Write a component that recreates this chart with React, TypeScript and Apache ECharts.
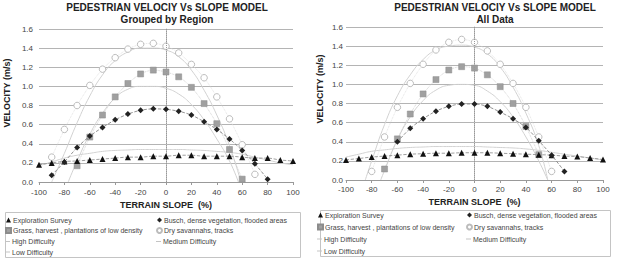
import React, { useEffect, useRef } from "react";
import * as echarts from "echarts";

const FONT = "'Liberation Sans', Arial, sans-serif";

const SLOPES = [-100, -90, -80, -70, -60, -50, -40, -30, -20, -10, 0, 10, 20, 30, 40, 50, 60, 70, 80, 90, 100];
const Y_TICKS = [0, 0.2, 0.4, 0.6, 0.8, 1.0, 1.2, 1.4, 1.6];
const X_TICKS = [-100, -80, -60, -40, -20, 0, 20, 40, 60, 80, 100];

const NAME_EXPL = "Exploration Survey";
const NAME_BUSCH = "Busch, dense vegetation, flooded areas";
const NAME_GRASS = "Grass, harvest , plantations of low density";
const NAME_DRY = "Dry savannahs, tracks";
const NAME_HIGH = "High Difficulty";
const NAME_MED = "Medium Difficulty";
const NAME_LOW = "Low Difficulty";

// Left chart: Grouped by Region
const L_EXPL = [0.18, 0.2, 0.215, 0.22, 0.23, 0.24, 0.25, 0.26, 0.26, 0.27, 0.27, 0.28, 0.28, 0.27, 0.27, 0.27, 0.26, 0.25, 0.25, 0.23, 0.22];
const L_BUSCH = [null, 0.07, 0.21, 0.36, 0.48, 0.57, 0.65, 0.71, 0.75, 0.765, 0.76, 0.74, 0.7, 0.63, 0.55, 0.45, 0.33, 0.19, 0.03, null, null];
const L_GRASS = [null, null, null, 0.17, 0.47, 0.7, 0.89, 1.03, 1.13, 1.17, 1.15, 1.1, 0.99, 0.82, 0.61, 0.34, 0.03, null, null, null, null];
const L_DRY = [null, 0.26, 0.55, 0.8, 1.01, 1.18, 1.3, 1.39, 1.44, 1.45, 1.42, 1.35, 1.23, 1.09, 0.89, 0.66, 0.39, 0.08, null, null, null];
const L_HIGH_X = [-100, -90, -80, -70, -60, -50, -40, -30, -20, -10, 0, 10, 20, 30, 40, 50, 60, 70, 80, 90, 100];
const L_HIGH_Y = [0.17, 0.21, 0.25, 0.28, 0.3, 0.32, 0.33, 0.335, 0.34, 0.34, 0.34, 0.34, 0.335, 0.33, 0.32, 0.31, 0.29, 0.26, 0.23, 0.2, 0.18];
const L_MED_X = [-77, -70, -60, -50, -40, -30, -20, -10, 0, 10, 20, 30, 40, 50, 57];
const L_MED_Y = [0, 0.22, 0.5, 0.72, 0.88, 0.97, 1.0, 1.0, 0.98, 0.92, 0.81, 0.65, 0.45, 0.22, 0];
const L_LOW_X = [-90, -80, -70, -60, -50, -40, -30, -20, -10, 0, 10, 20, 30, 40, 50, 59];
const L_LOW_Y = [0, 0.3, 0.62, 0.9, 1.12, 1.27, 1.36, 1.4, 1.4, 1.38, 1.31, 1.17, 0.96, 0.7, 0.38, 0];

// Right chart: All Data
const R_EXPL = [0.21, 0.225, 0.24, 0.25, 0.26, 0.27, 0.275, 0.28, 0.28, 0.285, 0.285, 0.285, 0.28, 0.275, 0.27, 0.265, 0.26, 0.25, 0.245, 0.23, 0.215];
const R_BUSCH = [null, null, null, null, 0.4, 0.54, 0.64, 0.72, 0.77, 0.795, 0.795, 0.77, 0.71, 0.64, 0.55, 0.41, 0.26, 0.09, null, null, null];
const R_GRASS = [null, null, null, 0.115, 0.43, 0.69, 0.9, 1.05, 1.15, 1.185, 1.17, 1.1, 0.976, 0.8, 0.56, 0.265, null, null, null, null, null];
const R_DRY = [null, null, 0.09, 0.45, 0.76, 1.01, 1.21, 1.36, 1.44, 1.47, 1.44, 1.35, 1.21, 1.01, 0.76, 0.45, 0.09, null, null, null, null];
const R_HIGH_X = [-100, -90, -80, -70, -60, -50, -40, -30, -20, -10, 0, 10, 20, 30, 40, 50, 60, 70, 80, 90, 100];
const R_HIGH_Y = [0.24, 0.27, 0.3, 0.315, 0.33, 0.34, 0.345, 0.35, 0.35, 0.35, 0.35, 0.345, 0.34, 0.335, 0.325, 0.31, 0.29, 0.27, 0.25, 0.23, 0.21];
const R_MED_X = [-73, -70, -60, -50, -40, -30, -20, -10, 0, 10, 20, 30, 40, 50, 57];
const R_MED_Y = [0, 0.1, 0.42, 0.66, 0.83, 0.94, 0.99, 1.0, 0.99, 0.93, 0.82, 0.66, 0.45, 0.2, 0];
const R_LOW_X = [-85, -80, -70, -60, -50, -40, -30, -20, -10, 0, 10, 20, 30, 40, 50, 57];
const R_LOW_Y = [0, 0.2, 0.58, 0.88, 1.1, 1.26, 1.36, 1.4, 1.41, 1.39, 1.32, 1.18, 0.97, 0.7, 0.36, 0];

type Layout = {
  title2: string;
  gridLeft: number;
  gridRight: number;
  gridTop: number;
  gridHeight: number;
  titleX: number;
  yNameX: number;
  yNameY: number;
  yLabelMargin: number;
  xLabelMargin: number;
  xNameGap: number;
  box: [number, number, number, number];
  rows: number[];
  rowH: number;
  col1: number;
  col2: number;
};

type Spec = {
  layout: Layout;
  expl: (number | null)[];
  busch: (number | null)[];
  grass: (number | null)[];
  dry: (number | null)[];
  highX: number[];
  highY: number[];
  medX: number[];
  medY: number[];
  lowX: number[];
  lowY: number[];
};

const pairs = (xs: number[], ys: (number | null)[]) =>
  xs.map((x, i) => [x, ys[i]]).filter((p) => p[1] !== null && p[1] !== undefined);

function buildOption(spec: Spec) {
  const L = spec.layout;
  const modelLine = (name: string, xs: number[], ys: number[]) => ({
    name,
    type: "line",
    data: pairs(xs, ys),
    smooth: true,
    showSymbol: false,
    symbol: "none",
    color: "#c4c4c4",
    itemStyle: { color: "#c4c4c4" },
    lineStyle: { color: "#d2d2d2", width: 1 },
    z: 1,
    silent: true,
  });
  const legendBase = {
    orient: "vertical",
    itemGap: 0,
    padding: 0,
    selectedMode: false,
    textStyle: {
      fontSize: 7,
      color: "#444",
      fontFamily: FONT,
      lineHeight: L.rowH,
      padding: [0, 0, 0, -3],
    },
  };
  const centered = {
    textAlign: "center",
    textVerticalAlign: "middle",
    align: "center",
    verticalAlign: "middle",
  };
  return {
    animation: false,
    backgroundColor: "#fff",
    grid: { left: L.gridLeft, right: L.gridRight, top: L.gridTop, height: L.gridHeight },
    xAxis: {
      type: "value",
      min: X_TICKS[0],
      max: X_TICKS[X_TICKS.length - 1],
      interval: 20,
      name: "TERRAIN SLOPE  (%)",
      nameLocation: "middle",
      nameGap: L.xNameGap,
      nameTextStyle: { fontSize: 9, fontWeight: "bold", color: "#222", fontFamily: FONT },
      axisLine: { show: true, lineStyle: { color: "#999", width: 1 } },
      axisTick: { show: true, length: 3, lineStyle: { color: "#999" } },
      axisLabel: { fontSize: 8, color: "#444", fontFamily: FONT, margin: L.xLabelMargin },
      splitLine: { show: false },
    },
    yAxis: {
      type: "value",
      min: Y_TICKS[0],
      max: Y_TICKS[Y_TICKS.length - 1],
      interval: 0.2,
      axisLine: { show: true, lineStyle: { color: "#bbb", width: 1 } },
      axisTick: { show: false },
      axisLabel: {
        fontSize: 8,
        color: "#444",
        fontFamily: FONT,
        margin: L.yLabelMargin,
        formatter: (v: number) => v.toFixed(1),
      },
      splitLine: { show: true, lineStyle: { color: "#b4b4b4", width: 1 } },
    },
    legend: [
      {
        ...legendBase,
        left: L.col1,
        top: L.rows[0] - L.rowH / 2,
        itemWidth: 5,
        itemHeight: 5,
        data: [
          { name: NAME_EXPL, icon: "triangle" },
          { name: NAME_GRASS, icon: "rect" },
        ],
      },
      {
        ...legendBase,
        left: L.col1,
        top: L.rows[2] - L.rowH / 2,
        itemWidth: 5,
        itemHeight: 1,
        data: [
          { name: NAME_HIGH, icon: "rect" },
          { name: NAME_LOW, icon: "rect" },
        ],
      },
      {
        ...legendBase,
        left: L.col2,
        top: L.rows[0] - L.rowH / 2,
        itemWidth: 5,
        itemHeight: 5,
        data: [
          { name: NAME_BUSCH, icon: "diamond" },
          { name: NAME_DRY, icon: "circle" },
        ],
      },
      {
        ...legendBase,
        left: L.col2,
        top: L.rows[2] - L.rowH / 2,
        itemWidth: 5,
        itemHeight: 1,
        data: [{ name: NAME_MED, icon: "rect" }],
      },
    ],
    graphic: [
      {
        type: "text",
        x: L.titleX,
        y: 7,
        style: {
          text: "PEDESTRIAN VELOCIY Vs SLOPE MODEL",
          font: `bold 10px ${FONT}`,
          fill: "#222",
          ...centered,
        },
      },
      {
        type: "text",
        x: L.titleX,
        y: 19,
        style: { text: L.title2, font: `bold 10px ${FONT}`, fill: "#222", ...centered },
      },
      {
        type: "text",
        x: L.yNameX,
        y: L.yNameY,
        rotation: Math.PI / 2,
        style: { text: "VELOCITY (m/s)", font: `bold 9px ${FONT}`, fill: "#222", ...centered },
      },
      {
        type: "rect",
        z: -10,
        shape: { x: L.box[0], y: L.box[1], width: L.box[2], height: L.box[3] },
        style: { fill: "none", stroke: "#c4c4c4", lineWidth: 1 },
      },
    ],
    series: [
      modelLine(NAME_HIGH, spec.highX, spec.highY),
      modelLine(NAME_MED, spec.medX, spec.medY),
      modelLine(NAME_LOW, spec.lowX, spec.lowY),
      {
        name: NAME_DRY,
        type: "line",
        data: pairs(SLOPES, spec.dry),
        smooth: 0.3,
        symbol: "circle",
        symbolSize: 6.5,
        itemStyle: { color: "#fff", borderColor: "#bcbcbc", borderWidth: 1 },
        lineStyle: { color: "#dcdcdc", width: 0.8, type: "dotted" },
        z: 3,
      },
      {
        name: NAME_GRASS,
        type: "line",
        data: pairs(SLOPES, spec.grass),
        smooth: 0.3,
        symbol: "rect",
        symbolSize: 6,
        itemStyle: { color: "#a0a0a0", borderColor: "#8c8c8c", borderWidth: 0.5 },
        lineStyle: { color: "#c8c8c8", width: 0.8, type: "dotted" },
        z: 4,
      },
      {
        name: NAME_EXPL,
        type: "line",
        data: pairs(SLOPES, spec.expl),
        smooth: 0.3,
        symbol: "triangle",
        symbolSize: 6,
        itemStyle: { color: "#111" },
        lineStyle: { color: "#888", width: 0.8, type: "dashed" },
        z: 5,
        markLine: {
          silent: true,
          symbol: ["none", "none"],
          label: { show: false },
          lineStyle: { color: "#999", type: "dotted", width: 1 },
          data: [{ xAxis: 0 }],
        },
      },
      {
        name: NAME_BUSCH,
        type: "line",
        data: pairs(SLOPES, spec.busch),
        smooth: 0.3,
        symbol: "diamond",
        symbolSize: 6,
        itemStyle: { color: "#222" },
        lineStyle: { color: "#777", width: 0.8, type: "dashed" },
        z: 6,
      },
    ],
  };
}

const LEFT: Spec = {
  layout: {
    title2: "Grouped by Region",
    gridLeft: 39,
    gridRight: 17,
    gridTop: 29,
    gridHeight: 153,
    titleX: 167,
    yNameX: 7,
    yNameY: 93,
    yLabelMargin: 6,
    xLabelMargin: 6,
    xNameGap: 18,
    box: [5.5, 212.5, 295, 45],
    rows: [220, 231, 241.5, 252],
    rowH: 10.5,
    col1: 5,
    col2: 156,
  },
  expl: L_EXPL,
  busch: L_BUSCH,
  grass: L_GRASS,
  dry: L_DRY,
  highX: L_HIGH_X,
  highY: L_HIGH_Y,
  medX: L_MED_X,
  medY: L_MED_Y,
  lowX: L_LOW_X,
  lowY: L_LOW_Y,
};

const RIGHT: Spec = {
  layout: {
    title2: "All Data",
    gridLeft: 36,
    gridRight: 17,
    gridTop: 27,
    gridHeight: 153,
    titleX: 185,
    yNameX: 10,
    yNameY: 89,
    yLabelMargin: 3,
    xLabelMargin: 5,
    xNameGap: 17,
    box: [10.5, 210.5, 290, 46],
    rows: [215, 227, 239, 251],
    rowH: 12,
    col1: 7,
    col2: 156,
  },
  expl: R_EXPL,
  busch: R_BUSCH,
  grass: R_GRASS,
  dry: R_DRY,
  highX: R_HIGH_X,
  highY: R_HIGH_Y,
  medX: R_MED_X,
  medY: R_MED_Y,
  lowX: R_LOW_X,
  lowY: R_LOW_Y,
};

function Panel({ spec }: { spec: Spec }) {
  const ref = useRef<HTMLDivElement>(null);
  useEffect(() => {
    if (!ref.current) return;
    const chart = echarts.init(ref.current, undefined, { renderer: "svg" });
    chart.setOption(buildOption(spec) as any);
    return () => chart.dispose();
  }, [spec]);
  return <div ref={ref} style={{ width: 310, height: 269 }} />;
}

export default function App() {
  return (
    <div
      style={{
        position: "absolute",
        left: 0,
        top: 0,
        width: 620,
        height: 269,
        display: "flex",
        background: "#fff",
      }}
    >
      <Panel spec={LEFT} />
      <Panel spec={RIGHT} />
    </div>
  );
}
